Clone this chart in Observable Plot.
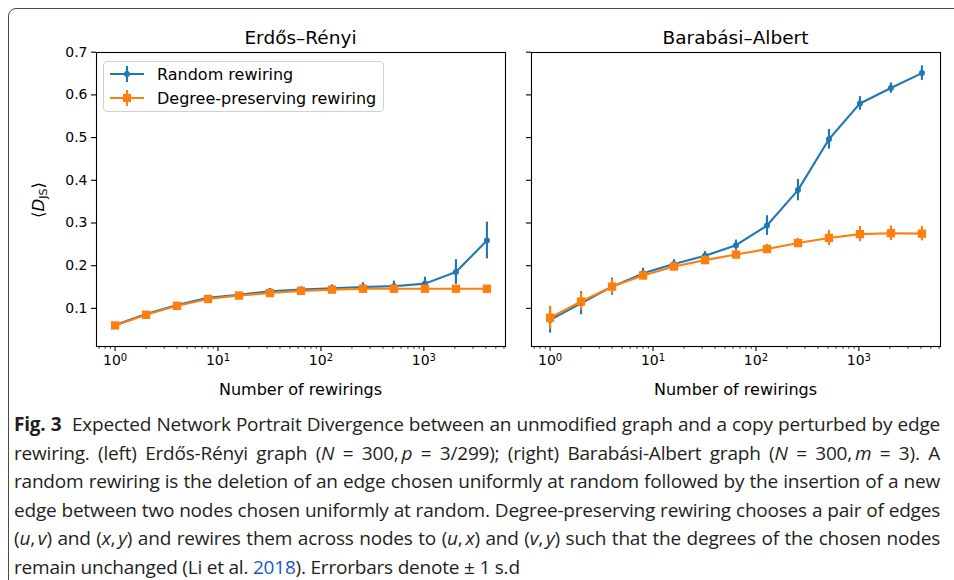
<!DOCTYPE html>
<html>
<head>
<meta charset="utf-8">
<script src="https://cdn.jsdelivr.net/npm/d3@7"></script>
<script src="https://cdn.jsdelivr.net/npm/@observablehq/plot@0.6"></script>
<style>
  body { margin: 0; background: #fff; }
  #fig { position: relative; width: 954px; height: 580px; overflow: hidden; background: #fff; }
  .frame { position: absolute; left: 8px; top: 8px; width: 1000px; height: 700px; border: 1.5px solid #4a4a4a; border-radius: 8px; box-sizing: border-box; }
  .ptitle { position: absolute; top: 37px; transform: translate(-50%, -50%); font: 18.5px "DejaVu Sans"; white-space: nowrap; color: #000; }
  .xlab { position: absolute; top: 389px; transform: translate(-50%, -50%); font: 16px "DejaVu Sans"; white-space: nowrap; color: #000; }
  .ylab { position: absolute; left: 39px; top: 200px; transform: translate(-50%, -50%) rotate(-90deg); font: 16.5px "DejaVu Sans"; white-space: nowrap; color: #000; }
  .ylab sub { font-size: 11px; vertical-align: -3px; }
  .plotbox { position: absolute; top: 0; }
  .legend { position: absolute; left: 103px; top: 61px; width: 281px; height: 51px; box-sizing: border-box; border: 1px solid #d0d0d0; border-radius: 4px; background: rgba(255,255,255,0.8); font: 16px "DejaVu Sans"; color: #000; }
  .legend .row { position: absolute; left: 5px; height: 20px; display: flex; align-items: center; white-space: nowrap; }
  .legend svg { margin-right: 12px; }
  .caption { position: absolute; left: 14px; top: 410px; width: 926px; font: 19px "Open Sans"; font-stretch: 88%; line-height: 28.5px; color: #231f20; }
  .caption .ln { white-space: nowrap; text-align: justify; text-align-last: justify; }
  .caption .ln.last { text-align: left; text-align-last: left; }
  .caption b { font-weight: 700; }
  .caption a { color: #1a56c8; text-decoration: none; }
</style>
</head>
<body>
<div id="fig">
  <div class="frame"></div>
  <div class="ptitle" id="t1"></div>
  <div class="ptitle" id="t2"></div>
  <div class="ylab">⟨<i>D</i><sub>JS</sub>⟩</div>
  <div class="plotbox" id="p1" style="left:0px"></div>
  <div class="plotbox" id="p2" style="left:510px"></div>
  <div class="xlab" id="x1"></div>
  <div class="xlab" id="x2"></div>
  <div class="legend">
    <div class="row" style="top:2px">
      <svg width="36" height="20"><line x1="1" y1="10" x2="35" y2="10" stroke="#1f77b4" stroke-width="2.1"/><line x1="18" y1="2" x2="18" y2="18" stroke="#1f77b4" stroke-width="2.1"/><circle cx="18" cy="10" r="3" fill="#1f77b4"/></svg>
      <span id="lg1"></span>
    </div>
    <div class="row" style="top:26px">
      <svg width="36" height="20"><line x1="1" y1="10" x2="35" y2="10" stroke="#ff7f0e" stroke-width="2.1"/><line x1="18" y1="2" x2="18" y2="18" stroke="#ff7f0e" stroke-width="2.1"/><rect x="14" y="6" width="8" height="8" fill="#ff7f0e"/></svg>
      <span id="lg2"></span>
    </div>
  </div>
  <div class="caption">
    <div class="ln"><span><b>Fig. 3</b>&nbsp; Expected Network Portrait Divergence between an unmodified graph and a copy perturbed by edge</span></div>
    <div class="ln"><span>rewiring. (left) Erdős-Rényi graph (<i>N</i> = 300,&thinsp;<i>p</i> = 3/299); (right) Barabási-Albert graph (<i>N</i> = 300,&thinsp;<i>m</i> = 3). A</span></div>
    <div class="ln"><span>random rewiring is the deletion of an edge chosen uniformly at random followed by the insertion of a new</span></div>
    <div class="ln"><span>edge between two nodes chosen uniformly at random. Degree-preserving rewiring chooses a pair of edges</span></div>
    <div class="ln"><span>(<i>u</i>,&thinsp;<i>v</i>) and (<i>x</i>,&thinsp;<i>y</i>) and rewires them across nodes to (<i>u</i>,&thinsp;<i>x</i>) and (<i>v</i>,&thinsp;<i>y</i>) such that the degrees of the chosen nodes</span></div>
    <div class="ln last"><span>remain unchanged (Li et al. <a>2018</a>). Errorbars denote ± 1 s.d</span></div>
  </div>
</div>
<script>
// ---- data ----
const panelTitles = ["Erdős–Rényi", "Barabási–Albert"];
const seriesNames = ["Random rewiring", "Degree-preserving rewiring"];
const xLabel = "Number of rewirings";
const rewirings = [1, 2, 4, 8, 16, 32, 64, 128, 256, 512, 1024, 2048, 4096];

const erRandomMean = [0.061, 0.087, 0.108, 0.125, 0.132, 0.140, 0.144, 0.147, 0.150, 0.152, 0.158, 0.185, 0.259];
const erRandomSd   = [0.006, 0.006, 0.006, 0.005, 0.005, 0.006, 0.006, 0.008, 0.010, 0.012, 0.015, 0.029, 0.043];
const erDegreeMean = [0.060, 0.085, 0.106, 0.122, 0.130, 0.136, 0.141, 0.144, 0.146, 0.146, 0.146, 0.146, 0.146];
const erDegreeSd   = [0.005, 0.005, 0.005, 0.005, 0.005, 0.005, 0.005, 0.005, 0.005, 0.005, 0.005, 0.005, 0.005];

const baRandomMean = [0.073, 0.112, 0.151, 0.182, 0.204, 0.223, 0.248, 0.294, 0.377, 0.496, 0.580, 0.616, 0.651];
const baRandomSd   = [0.031, 0.027, 0.020, 0.012, 0.010, 0.010, 0.012, 0.023, 0.025, 0.023, 0.016, 0.012, 0.017];
const baDegreeMean = [0.078, 0.116, 0.151, 0.177, 0.198, 0.213, 0.226, 0.239, 0.253, 0.265, 0.274, 0.276, 0.275];
const baDegreeSd   = [0.027, 0.020, 0.017, 0.010, 0.010, 0.010, 0.010, 0.011, 0.011, 0.018, 0.018, 0.017, 0.017];

const yTicks = [0.1, 0.2, 0.3, 0.4, 0.5, 0.6, 0.7];
const xMajorTicks = [1, 10, 100, 1000];
const xMajorExponents = ["0", "1", "2", "3"];

const blue = "#1f77b4", orange = "#ff7f0e";

// ---- scales (matplotlib-like 5% margins) ----
const lx = d3.extent(rewirings, d => Math.log10(d));
const px = 0.05 * (lx[1] - lx[0]);
const xDomain = [10 ** (lx[0] - px), 10 ** (lx[1] + px)];
const allLo = [...erRandomMean.map((m, i) => m - erRandomSd[i]), ...baRandomMean.map((m, i) => m - baRandomSd[i]),
               ...erDegreeMean.map((m, i) => m - erDegreeSd[i]), ...baDegreeMean.map((m, i) => m - baDegreeSd[i])];
const allHi = [...erRandomMean.map((m, i) => m + erRandomSd[i]), ...baRandomMean.map((m, i) => m + baRandomSd[i]),
               ...erDegreeMean.map((m, i) => m + erDegreeSd[i]), ...baDegreeMean.map((m, i) => m + baDegreeSd[i])];
const ylo = d3.min(allLo), yhi = d3.max(allHi), py = 0.05 * (yhi - ylo);
const yDomain = [ylo - py, yhi + py];

const minorTicks = [];
for (let e = -1; e <= 3; e++) for (let k = 2; k <= 9; k++) {
  const v = k * 10 ** e;
  if (v >= xDomain[0] && v <= xDomain[1]) minorTicks.push(v);
}

function rows(means, sds) {
  return rewirings.map((x, i) => ({x, y: means[i], lo: means[i] - sds[i], hi: means[i] + sds[i]}));
}

function panel(rand, deg, opts) {
  const {width, ml, mr, yLabels} = opts;
  const svg = Plot.plot({
    width, height: 400,
    marginLeft: ml, marginRight: mr, marginTop: 52, marginBottom: 54,
    x: {type: "log", domain: xDomain},
    y: {domain: yDomain},
    style: {fontFamily: "DejaVu Sans", fontSize: "14px", color: "#000", background: "transparent", overflow: "visible"},
    marks: [
      Plot.axisY({ticks: yTicks, tickSize: 5, tickPadding: 4, tickFormat: yLabels ? d3.format(".1f") : () => "", label: null, strokeWidth: 1.1}),
      Plot.axisX({ticks: xMajorTicks, tickSize: 5, tickPadding: 4, tickFormat: d => "10^" + xMajorExponents[xMajorTicks.indexOf(d)], label: null, strokeWidth: 1.1}),
      Plot.axisX({ticks: minorTicks, tickSize: 2.8, tickFormat: () => "", label: null, strokeWidth: 0.8}),
      // random rewiring
      Plot.line(rand, {x: "x", y: "y", stroke: blue, strokeWidth: 2.1}),
      Plot.ruleX(rand, {x: "x", y1: "lo", y2: "hi", stroke: blue, strokeWidth: 2.1}),
      Plot.dot(rand, {x: "x", y: "y", r: 3, fill: blue}),
      // degree-preserving rewiring
      Plot.line(deg, {x: "x", y: "y", stroke: orange, strokeWidth: 2.1}),
      Plot.ruleX(deg, {x: "x", y1: "lo", y2: "hi", stroke: orange, strokeWidth: 2.1}),
      Plot.dot(deg, {x: "x", y: "y", r: 4.7, symbol: "square", fill: orange}),
      Plot.frame({stroke: "#000", strokeWidth: 1.1})
    ]
  });
  // render "10^n" tick labels with a real superscript
  svg.querySelectorAll("text").forEach(t => {
    const m = /^10\^(\d)$/.exec(t.textContent);
    if (!m) return;
    t.textContent = "";
    const a = document.createElementNS("http://www.w3.org/2000/svg", "tspan");
    a.textContent = "10";
    const b = document.createElementNS("http://www.w3.org/2000/svg", "tspan");
    b.textContent = m[1];
    b.setAttribute("font-size", "10px");
    b.setAttribute("dy", "-0.45em");
    t.append(a, b);
  });
  return svg;
}

document.getElementById("p1").append(panel(rows(erRandomMean, erRandomSd), rows(erDegreeMean, erDegreeSd), {width: 510, ml: 96, mr: 5, yLabels: true}));
document.getElementById("p2").append(panel(rows(baRandomMean, baRandomSd), rows(baDegreeMean, baDegreeSd), {width: 444, ml: 21, mr: 14, yLabels: false}));

const t1 = document.getElementById("t1"); t1.textContent = panelTitles[0]; t1.style.left = "300.5px";
const t2 = document.getElementById("t2"); t2.textContent = panelTitles[1]; t2.style.left = "735.5px";
const x1 = document.getElementById("x1"); x1.textContent = xLabel; x1.style.left = "300.5px";
const x2 = document.getElementById("x2"); x2.textContent = xLabel; x2.style.left = "735.5px";
document.getElementById("lg1").textContent = seriesNames[0];
document.getElementById("lg2").textContent = seriesNames[1];

// fit caption: uniform letter-spacing so the longest line fits the column
const lines = [...document.querySelectorAll(".caption .ln")];
const spans = lines.map(l => l.querySelector("span"));
const maxW = 922;
let widest = 0, widestChars = 1;
spans.forEach(s => { const w = s.getBoundingClientRect().width; if (w > widest) { widest = w; widestChars = s.textContent.length; } });
if (widest > maxW) {
  const ls = (maxW - widest) / widestChars;
  document.querySelector(".caption").style.letterSpacing = ls + "px";
}
</script>
</body>
</html>
